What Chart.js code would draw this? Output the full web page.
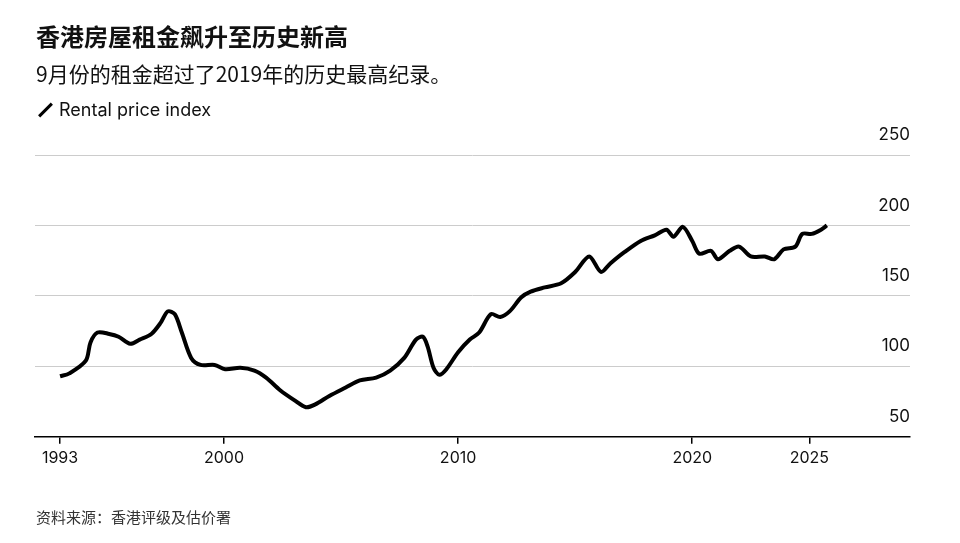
<!DOCTYPE html>
<html><head><meta charset="utf-8">
<script src="https://cdn.jsdelivr.net/npm/chart.js@4"></script>
<style>
body{margin:0;background:#fff;font-family:"Noto Sans CJK SC","Noto Sans",sans-serif;color:#111}
#wrap{position:relative;width:960px;height:543px}
.t{position:absolute;left:36px;white-space:nowrap}
#title{top:18px;font-size:24px;font-weight:bold}
#sub{top:58px;font-size:21px}
#leg{top:99px;font-size:18px;font-family:Inter,"Noto Sans",sans-serif}
#leg i{display:inline-block;width:3px;height:18px;background:#000;transform:rotate(45deg);margin:0 12px -3px 8px}
#src{top:506px;font-size:15px;color:#333}
canvas{position:absolute;left:0;top:0}
</style></head><body>
<div id="wrap">
<canvas id="c" width="960" height="543"></canvas>
<div class="t" id="title">香港房屋租金飙升至历史新高</div>
<div class="t" id="sub">9月份的租金超过了2019年的历史最高纪录。</div>
<div class="t" id="leg"><i></i>Rental price index</div>
<div class="t" id="src">资料来源：香港评级及估价署</div>
</div>
<script>
// 年份 / 指数
const years = [1993.0,1993.4,1994.1,1994.3,1994.6,1995.1,1995.5,1996.0,1996.4,1996.9,1997.3,1997.6,1997.9,1998.2,1998.6,1999.0,1999.6,2000.05,2000.7,2001.3,2001.8,2002.4,2003.0,2003.5,2003.9,2004.5,2005.2,2005.8,2006.5,2007.1,2007.7,2008.2,2008.5,2008.7,2008.95,2009.2,2009.5,2010.0,2010.5,2010.9,2011.4,2011.8,2012.2,2012.7,2013.1,2013.7,2014.4,2015.0,2015.6,2016.1,2016.5,2017.1,2017.8,2018.4,2018.9,2019.2,2019.6,2020.0,2020.3,2020.8,2021.1,2021.6,2022.0,2022.5,2023.1,2023.5,2023.9,2024.4,2024.7,2025.1,2025.5,2025.75];
const index = [93,95,104,117,124,123,121,116,119,123,131,139,137,124,106,101,101,98,99,97,92,83,76,71,73,79,85,90,92,97,106,119,121,114,99,94,98,110,119,124,137,135,139,149,153,156,159,167,178,167,173,181,189,193,197,192,199,189,180,182,176,182,185,178,178,176,183,185,194,194,197,200];
const xTicks = [1993,2000,2010,2020,2025];
const yTicks = [50,100,150,200,250];

new Chart(document.getElementById('c'), {
  type: 'line',
  data: { datasets: [{ data: years.map((y, i) => ({ x: y, y: index[i] })), borderColor: '#000', borderWidth: 4, pointRadius: 0, tension: 0.3 }] },
  options: {
    responsive: false, animation: false,
    layout: { padding: { left: 35, right: 50, top: 155, bottom: 70 } },
    plugins: { legend: { display: false }, tooltip: { enabled: false } },
    scales: {
      x: {
        type: 'linear', min: 1991.93, max: 2029.3,
        afterBuildTicks: s => { s.ticks = xTicks.map(v => ({ value: v })); },
        grid: { drawOnChartArea: false, drawTicks: true, tickLength: 7, color: '#000', lineWidth: 1.5 },
        border: { color: '#000', width: 1.5 },
        ticks: { color: '#111', font: { size: 16, family: 'Inter' }, padding: 5, autoSkip: false, maxRotation: 0, callback: v => String(v) }
      },
      y: {
        position: 'right', min: 50, max: 250,
        afterBuildTicks: s => { s.ticks = yTicks.map(v => ({ value: v })); },
        grid: { color: '#ccc', drawTicks: false },
        border: { display: false },
        ticks: { mirror: true, labelOffset: -20, padding: 0, color: '#111', font: { size: 17, family: 'Inter' } }
      }
    }
  }
});
</script>
</body></html>
